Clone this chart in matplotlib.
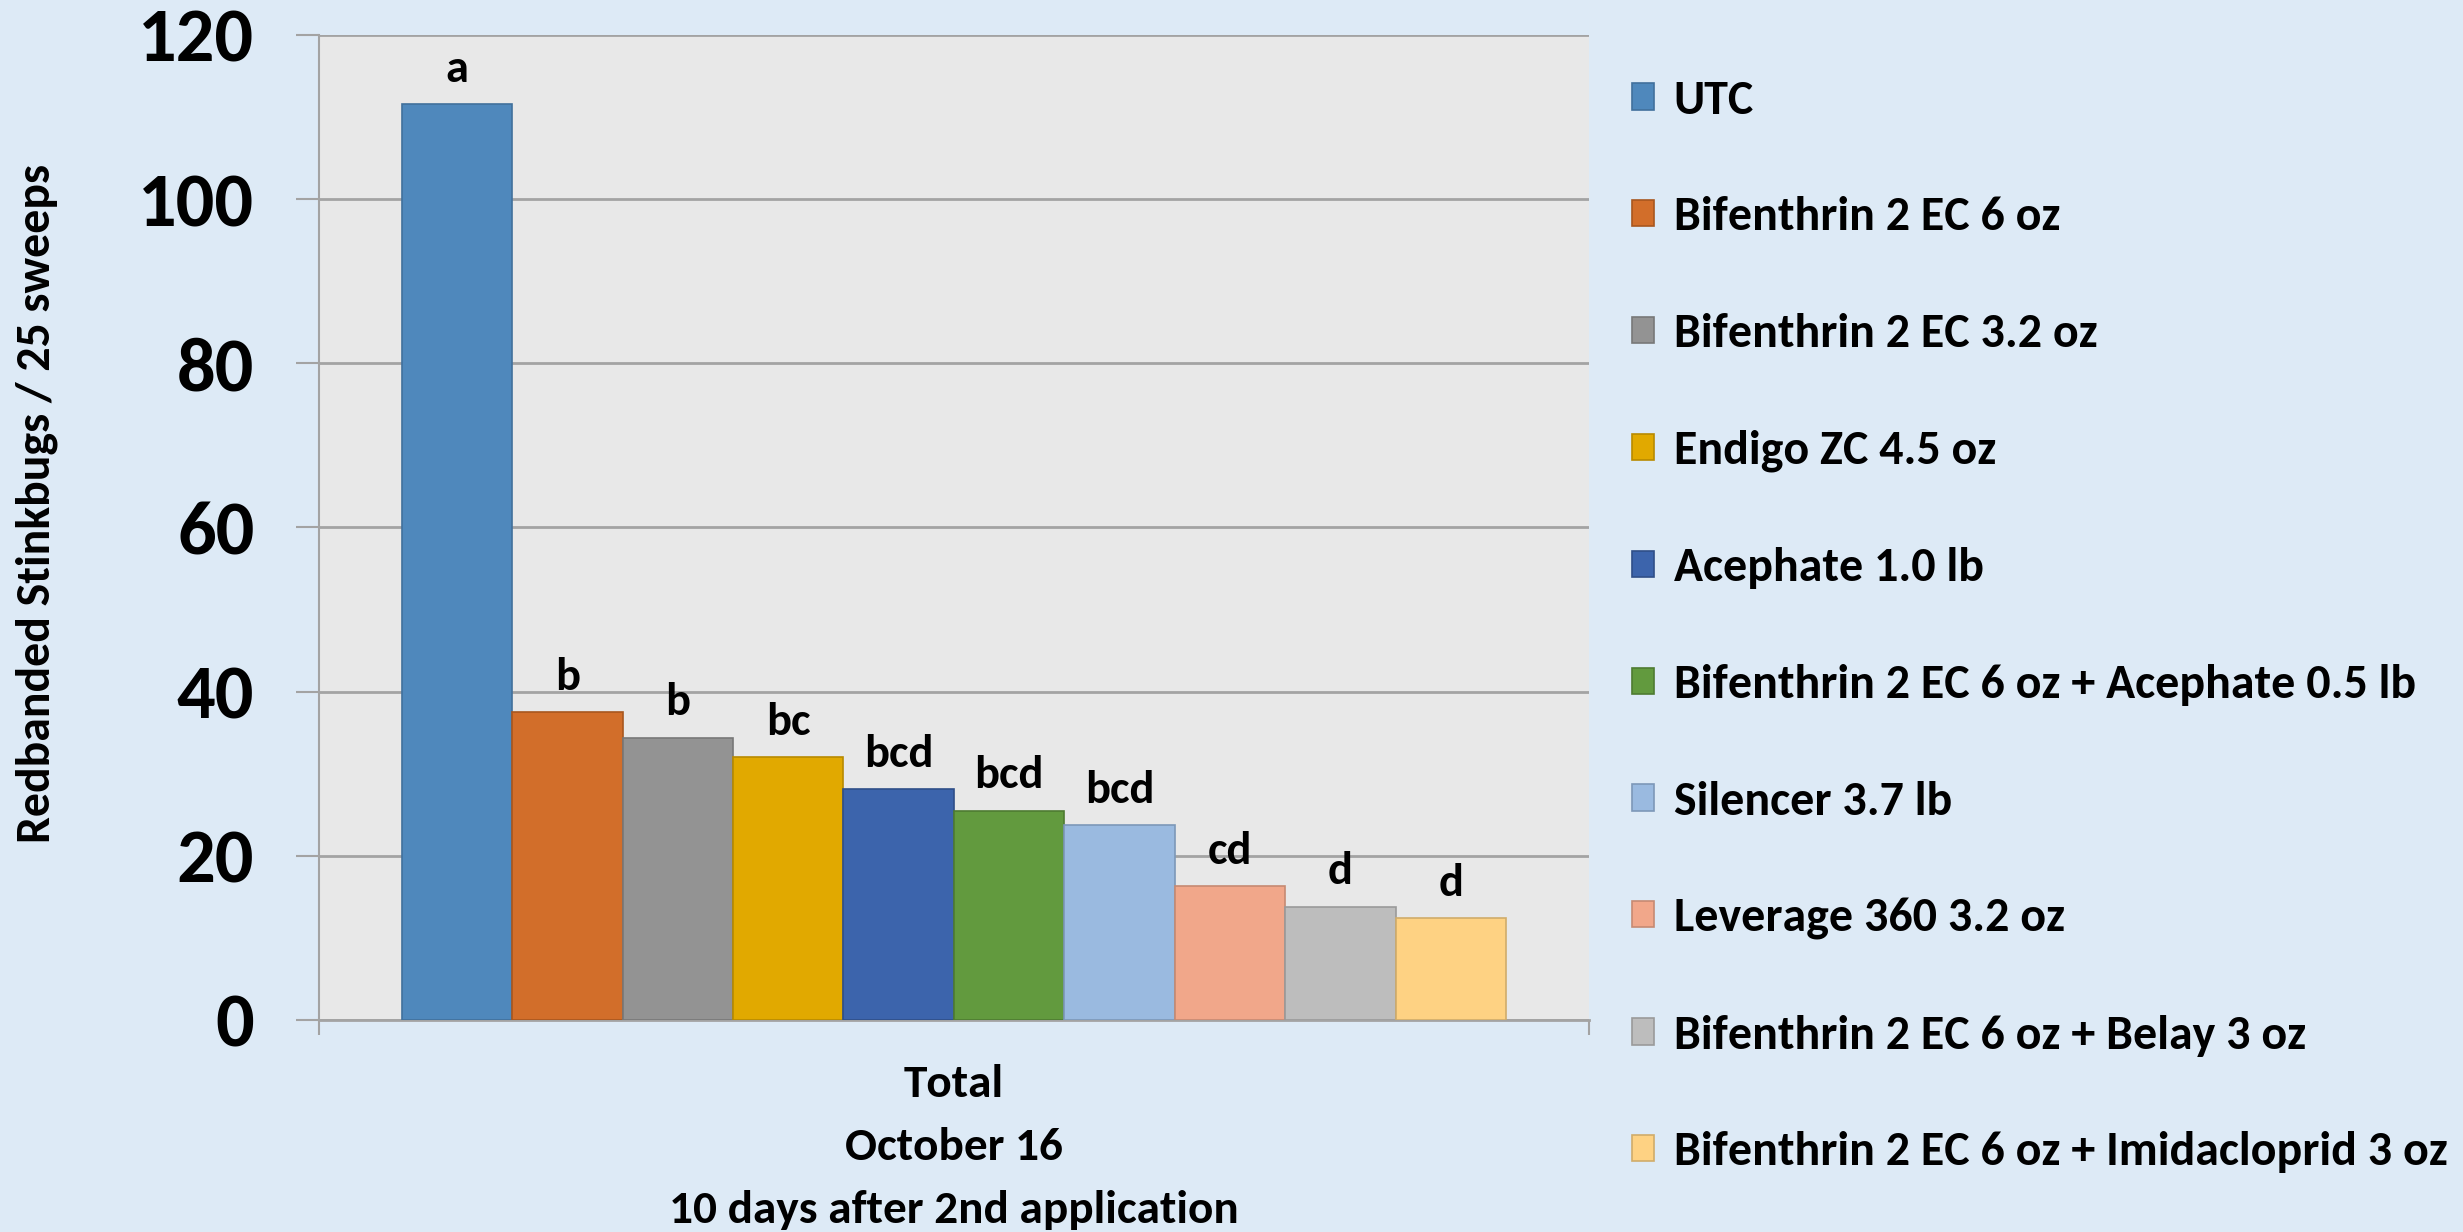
import matplotlib
matplotlib.use("Agg")
import matplotlib.pyplot as plt
from matplotlib import font_manager
from matplotlib.patches import Patch

# === Data ===
treatments = [
    "UTC",
    "Bifenthrin 2 EC 6 oz",
    "Bifenthrin 2 EC 3.2 oz",
    "Endigo ZC 4.5 oz",
    "Acephate 1.0 lb",
    "Bifenthrin 2 EC 6 oz + Acephate 0.5 lb",
    "Silencer 3.7 lb",
    "Leverage 360 3.2 oz",
    "Bifenthrin 2 EC 6 oz + Belay 3 oz",
    "Bifenthrin 2 EC 6 oz + Imidacloprid 3 oz",
]
stinkbugs = [111.6, 37.5, 34.4, 32.0, 28.1, 25.5, 23.7, 16.3, 13.8, 12.4]
letters = ["a", "b", "b", "bc", "bcd", "bcd", "bcd", "cd", "d", "d"]
x_labels = ["Total", "October 16", "10 days after 2nd application"]
y_ticks = [0, 20, 40, 60, 80, 100, 120]

colors = ["#4F88BC", "#D26E2A", "#939393", "#E1A900", "#3C64AC",
          "#629A3E", "#9ABAE0", "#F1A78A", "#BDBDBD", "#FED283"]
edges = ["#41709C", "#A8571F", "#787878", "#B88A00", "#2F4F88",
         "#4E7B31", "#7D98B8", "#C68A72", "#9A9A9A", "#D0AC6A"]

# pick a Calibri-like font if one is installed
available = {f.name for f in font_manager.fontManager.ttflist}
main_font = "DejaVu Sans"
for name in ["Carlito", "Liberation Sans Narrow", "Liberation Sans"]:
    if name in available:
        main_font = name
        break

BG = "#DDEAF6"
GRID = "#A3A3A3"

fig = plt.figure(figsize=(24.63, 12.32), dpi=100, facecolor=BG)
ax = fig.add_axes([0.1295, 0.1721, 0.5156, 0.7995])
ax.set_facecolor("#E8E8E8")

pos = list(range(len(stinkbugs)))
bars = ax.bar(pos, stinkbugs, width=1.0, color=colors, edgecolor=edges,
              linewidth=1.2, zorder=3)

for p, v, t in zip(pos, stinkbugs, letters):
    ax.annotate(t, (p, v), xytext=(0, 11), textcoords="offset points",
                ha="center", va="bottom", fontsize=33.5, fontweight="bold",
                family=main_font, zorder=4)

ax.set_xlim(-1.25, 10.25)
ax.set_ylim(0, 120)
ax.set_yticks(y_ticks)
ax.set_yticklabels([str(t) for t in y_ticks], fontsize=55, fontweight="bold",
                   family=main_font)
ax.yaxis.grid(True, color=GRID, linewidth=2, zorder=0)
ax.tick_params(axis="y", length=16.5, width=1.5, color=GRID, pad=30)
ax.set_xticks([-1.25, 10.25])
ax.set_xticklabels(["", ""])
ax.tick_params(axis="x", length=11, width=1.5, color=GRID)

for s in ["top", "right"]:
    ax.spines[s].set_visible(False)
ax.spines["left"].set_color(GRID)
ax.spines["left"].set_linewidth(1.5)
ax.spines["bottom"].set_color(GRID)
ax.spines["bottom"].set_linewidth(2)

fig.text(0.015, 1 - 503 / 1232, "Redbanded Stinkbugs / 25 sweeps",
         rotation=90, ha="center", va="center", fontsize=34.4,
         fontweight="bold", family=main_font)

# category labels under the axis
for k, lab in enumerate(x_labels):
    ax.text(0.5, -0.065 - k * 0.064, lab, transform=ax.transAxes,
            ha="center", va="center", fontsize=34, fontweight="bold",
            family=main_font)

handles = [Patch(facecolor=c, edgecolor=e, linewidth=1.2)
           for c, e in zip(colors, edges)]
leg = ax.legend(handles, treatments, loc="upper left",
                bbox_to_anchor=(0.655, 0.951), bbox_transform=fig.transFigure,
                frameon=False, prop={"family": main_font, "weight": "bold",
                                     "size": 34.5},
                handlelength=0.46, handleheight=0.46, handletextpad=0.4,
                labelspacing=1.56, borderaxespad=0)

fig.savefig("out.png", dpi=100, facecolor=BG)
